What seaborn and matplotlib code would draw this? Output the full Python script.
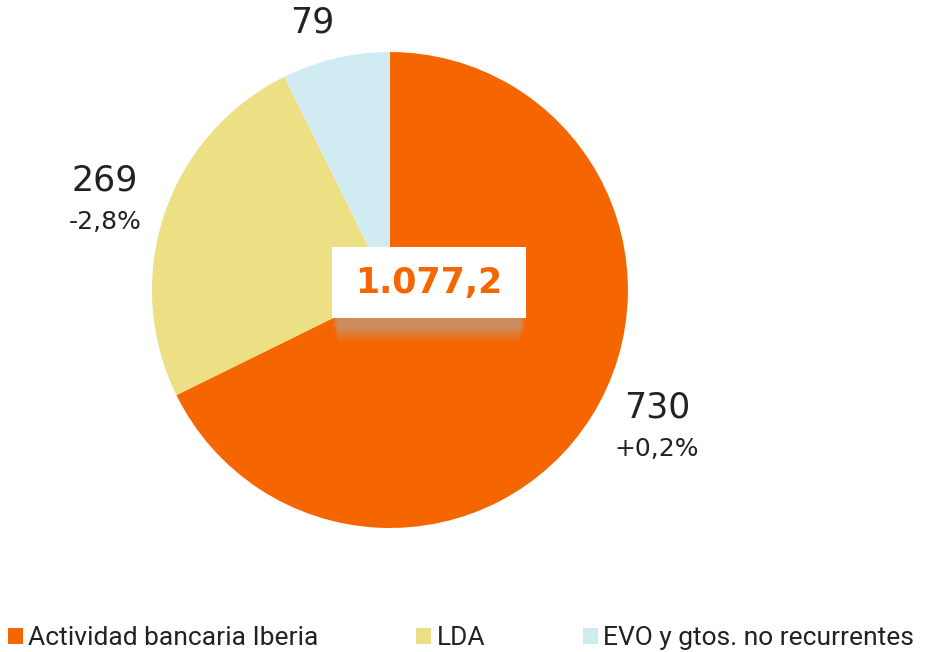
import matplotlib
matplotlib.use('Agg')
import matplotlib.pyplot as plt
import matplotlib.patches as mpatches
import seaborn as sns

categorias = ['Actividad bancaria Iberia', 'LDA', 'EVO y gtos. no recurrentes']
valores = [730, 269, 79]
variaciones = ['+0,2%', '-2,8%', '']
total_txt = '1.077,2'
colores = ['#F56600', '#EDE084', '#D0ECF2']

sns.set_theme(style='white')
plt.rcParams['font.family'] = ['DejaVu Sans']
texto = '#222222'

fig = plt.figure(figsize=(9.26, 6.52), dpi=100)
ax = fig.add_axes([0.1641, 0.1902, 0.514, 0.730])

ax.pie(valores, colors=colores, startangle=90, counterclock=False,
       radius=1, wedgeprops=dict(linewidth=0))
ax.set_xlim(-1, 1)
ax.set_ylim(-1, 1)
ax.set_aspect('equal')
ax.axis('off')

# etiquetas de valor
pos_valor = [(1.122, -0.492), (-1.197, 0.462), (-0.328, 1.126)]
pos_var = [(1.122, -0.668), (-1.197, 0.286), None]
for v, var, p, q in zip(valores, variaciones, pos_valor, pos_var):
    ax.text(p[0], p[1], str(v), ha='center', va='center', fontsize=25,
            color=texto, clip_on=False)
    if q is not None:
        ax.text(q[0], q[1], var, ha='center', va='center', fontsize=18,
                color=texto, clip_on=False)

# caja central con sombra difusa
x0, x1, y0, y1 = -0.244, 0.571, -0.118, 0.181
for k in range(3, 9):
    ins = 0.004 * (k - 2)
    ax.add_patch(mpatches.Rectangle((x0 + ins, y0 - 0.012 * k), x1 - x0 - 2 * ins,
                                    0.1 + 0.012 * k, facecolor='#b0b0b0', alpha=0.12,
                                    linewidth=0, clip_on=False, zorder=3))
ax.add_patch(mpatches.Rectangle((x0, y0), x1 - x0, y1 - y0, facecolor='white',
                                linewidth=0, clip_on=False, zorder=4))
ax.text((x0 + x1) / 2, 0.03, total_txt, ha='center', va='center', fontsize=25,
        fontweight='bold', color=colores[0], zorder=5)

handles = [mpatches.Patch(facecolor=c, edgecolor='none') for c in colores]
fig.legend(handles, categorias, loc='center left', bbox_to_anchor=(8 / 926, 1 - 638 / 652),
           ncol=3, frameon=False, handlelength=0.57, handleheight=0.57,
           handletextpad=0.2, columnspacing=3.7, borderaxespad=0, borderpad=0,
           prop={'family': 'Roboto', 'size': 19}, labelcolor=texto)

fig.savefig('out.png', dpi=100)
